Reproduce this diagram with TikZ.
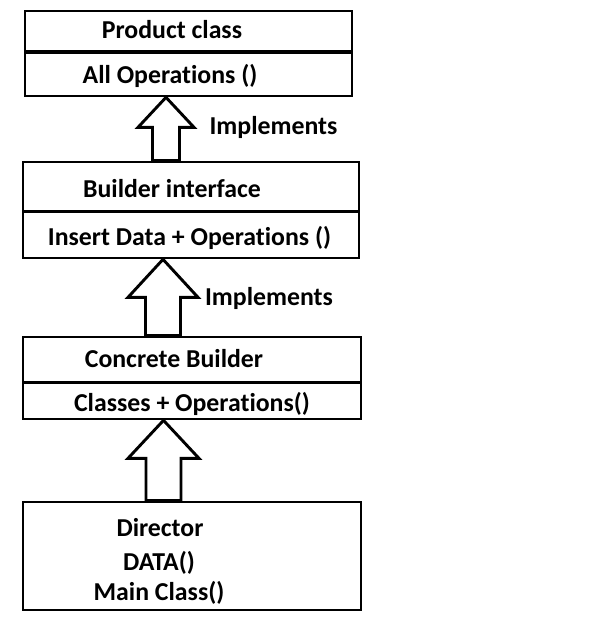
\documentclass[tikz,border=0pt]{standalone}
\usepackage{fontspec}
\setmainfont{Carlito}[RawFeature={-liga;-clig;-dlig}]
\usetikzlibrary{calc}
\newcommand\blockup[6]{%
  \draw[blockarrow] let \p1=(#1.south), \p2=(#2.north) in
    (#3pt,\y1) -- (#3pt+#5pt,\y1-#4pt) -- (#3pt+#6pt,\y1-#4pt) -- (#3pt+#6pt,\y2)
    -- (#3pt-#6pt,\y2) -- (#3pt-#6pt,\y1-#4pt) -- (#3pt-#5pt,\y1-#4pt) -- cycle;}
\begin{document}
\begin{tikzpicture}[x=1pt,y=-1pt,
  box/.style={draw,line width=2.7pt,inner sep=0pt},
  lbl/.style={font=\fontsize{25.8}{30}\selectfont\bfseries,inner sep=0pt},
  blockarrow/.style={draw,line width=2.9pt,fill=white,line join=miter}]
\useasboundingbox (0,0) rectangle (600,617);
% boxes
\node[box,minimum width=327pt,minimum height=40pt] (p1) at (188.5,31) {};
\node[box,minimum width=327pt,minimum height=43pt] (p2) at (188.5,74.5) {};
\node[box,minimum width=336pt,minimum height=49pt] (b1) at (191,186.5) {};
\node[box,minimum width=336pt,minimum height=46pt] (b2) at (191,235) {};
\node[box,minimum width=338pt,minimum height=45pt] (c1) at (192,359.5) {};
\node[box,minimum width=338pt,minimum height=36pt] (c2) at (192,401) {};
\node[box,minimum width=338pt,minimum height=108pt] (d) at (192,556) {};
% labels
\node[lbl] (tp1) at (172,30) {Product class};
\node[lbl] (tp2) at (170,75.5) {All Operations ()};
\node[lbl] (tb1) at (172,189) {Builder interface};
\node[lbl] (tb2) at (189.5,237.5) {Insert Data + Operations ()};
\node[lbl] (tc1) at (174,359) {Concrete Builder};
\node[lbl] (tc2) at (192,403.5) {Classes + Operations()};
\node[lbl] (td1) at (160,528) {Director};
\node[lbl] (td2) at (159,563) {DATA()};
\node[lbl] (td3) at (159,593) {Main Class()};
\node[lbl] (im1) at (273.5,127) {Implements};
\node[lbl] (im2) at (269,298) {Implements};
% arrows
\blockup{p2}{b1}{166}{30}{28}{13.5}
\blockup{b2}{c1}{163}{38}{35}{17.5}
\blockup{c2}{d}{163.5}{38}{35.5}{17.5}
\end{tikzpicture}
\end{document}
